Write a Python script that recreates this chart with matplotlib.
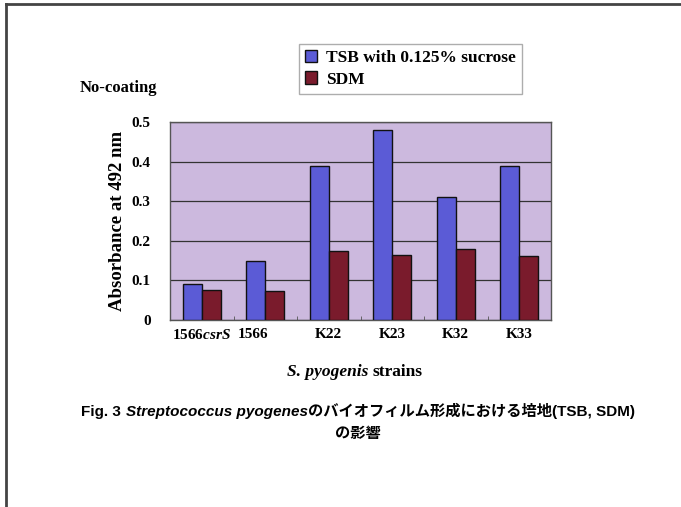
import matplotlib
matplotlib.use("Agg")
import matplotlib.pyplot as plt
import matplotlib.transforms as mtransforms
from matplotlib.lines import Line2D
import numpy as np

# data
strains = ["1566$\\mathit{csrS}$", "1566", "K22", "K23", "K32", "K33"]
tsb = [0.09, 0.15, 0.39, 0.48, 0.31, 0.388]
sdm = [0.075, 0.073, 0.175, 0.165, 0.18, 0.162]
yticks = [0, 0.1, 0.2, 0.3, 0.4, 0.5]
series_names = ["TSB with 0.125% sucrose", "SDM"]

serif = "Liberation Serif"
plt.rcParams["mathtext.fontset"] = "custom"
plt.rcParams["mathtext.it"] = "Liberation Serif:italic:bold"
plt.rcParams["mathtext.rm"] = "Liberation Serif:bold"

W, H = 681, 507
fig = plt.figure(figsize=(W / 100, H / 100), dpi=100)
fig.patch.set_facecolor("white")

# plot area in pixels: x 170..551, y 122..320
ax = fig.add_axes([170 / W, 1 - 320 / H, 381 / W, 198 / H])
ax.set_facecolor("#ccb9de")

x = np.arange(len(strains))
bw = 0.3
ax.bar(x - bw / 2, tsb, bw, color="#5b5bd6", edgecolor="#111111", linewidth=1.0,
       label=series_names[0], zorder=3)
ax.bar(x + bw / 2, sdm, bw, color="#7a1b2c", edgecolor="#111111", linewidth=1.0,
       label=series_names[1], zorder=3)

ax.set_xlim(-0.5, len(strains) - 0.5)
ax.set_ylim(0, 0.5)
ax.set_yticks(yticks)
ax.set_yticklabels([("%g" % v) for v in yticks], fontfamily=serif,
                   fontweight="bold", fontsize=11)
ax.yaxis.grid(True, color="#333333", linewidth=0.9, zorder=0)
ax.tick_params(axis="y", length=0, pad=14)

ax.set_xticks(x)
ax.set_xticklabels(strains, fontfamily=serif, fontweight="bold", fontsize=11)
ax.tick_params(axis="x", length=0, pad=6)
ax.set_xticks(np.arange(len(strains) + 1) - 0.5, minor=True)
ax.tick_params(axis="x", which="minor", direction="in", length=3, color="#555555")
# the "1566" label sits a bit left of its bars in the original
lab = ax.get_xticklabels()[1]
lab.set_transform(lab.get_transform() + mtransforms.ScaledTranslation(-0.12, 0, fig.dpi_scale_trans))

for s in ax.spines.values():
    s.set_color("#555555")
    s.set_linewidth(1.0)

ax.set_ylabel("Absorbance at 492 nm", fontfamily=serif, fontweight="bold",
              fontsize=13.5, labelpad=4)

# legend
leg = fig.legend(loc="upper left", bbox_to_anchor=(299 / W, 1 - 44 / H),
                 prop={"family": serif, "weight": "bold", "size": 12.5},
                 frameon=True, fancybox=False, edgecolor="#999999",
                 handlelength=0.7, handleheight=0.7, handletextpad=0.5,
                 borderpad=0.35, labelspacing=0.3, borderaxespad=0)
leg.get_frame().set_linewidth(1.0)

fig.text(80 / W, 1 - 88 / H, "No-coating", fontfamily=serif, fontweight="bold",
         fontsize=12, va="center", ha="left")


def text_run(parts, cx, cy, **common):
    # draw pieces of text side by side, centered on cx
    fig.canvas.draw()
    r = fig.canvas.get_renderer()
    objs = []
    for s, kw in parts:
        t = fig.text(0, cy, s, va="baseline", ha="left", **common, **kw)
        objs.append(t)
    widths = [t.get_window_extent(r).width / W for t in objs]
    xpos = cx - sum(widths) / 2
    for t, w in zip(objs, widths):
        t.set_x(xpos)
        xpos += w


text_run([("S. pyogenis ", {"style": "italic"}), ("strains", {})],
         355 / W, 1 - 376 / H, fontfamily=serif, fontweight="bold", fontsize=12.5)

cap = ["Liberation Sans", "Noto Sans CJK JP", "DejaVu Sans"]
text_run([("Fig. 3 ", {}), ("Streptococcus pyogenes", {"style": "italic"}),
          ("のバイオフィルム形成における培地(TSB, SDM)", {})],
         358 / W, 1 - 416 / H, fontfamily=cap, fontweight="bold", fontsize=11)
fig.text(358 / W, 1 - 438 / H, "の影響", fontfamily=cap, fontweight="bold",
         fontsize=11, ha="center", va="baseline")

# page border (top and left only)
fig.add_artist(Line2D([6 / W, 1], [1 - 4 / H, 1 - 4 / H], color="#444444", lw=2))
fig.add_artist(Line2D([6 / W, 6 / W], [0, 1 - 4 / H], color="#444444", lw=2))

fig.savefig("out.png", dpi=100)
